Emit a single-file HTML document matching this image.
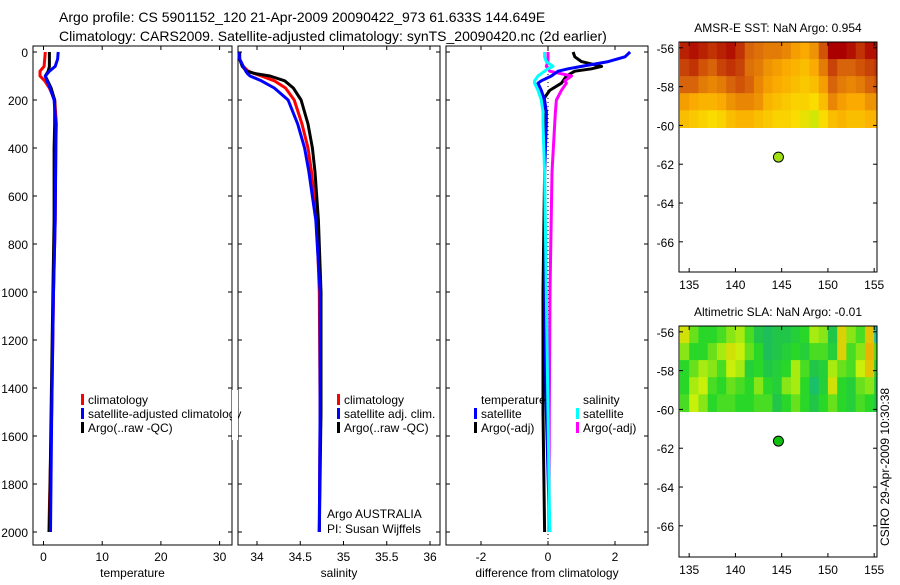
<!DOCTYPE html>
<html><head><meta charset="utf-8"><style>
body{margin:0;background:#fff;width:900px;height:580px;overflow:hidden;font-family:"Liberation Sans",sans-serif}
svg text{font-family:"Liberation Sans",sans-serif;fill:#000}
</style></head><body>
<svg id="chart" width="900" height="580" viewBox="0 0 900 580" xmlns="http://www.w3.org/2000/svg">
<text x="59" y="22" font-size="14">Argo profile: CS 5901152_120 21-Apr-2009 20090422_973 61.633S 144.649E</text>
<text x="59" y="41" font-size="14">Climatology: CARS2009. Satellite-adjusted climatology: synTS_20090420.nc (2d earlier)</text>
<g id="g"></g>
<text transform="translate(889,546) rotate(-90)" font-size="12">CSIRO 29-Apr-2009 10:30:38</text>
</svg>
<script>
// ---------- data ----------
const depthT = [0,30,60,80,100,120,150,200,300,400,700,1000,1500,2000];
const tempClim = [0.3,0.2,0.1,-0.6,-0.6,0.2,1.0,1.9,2.2,2.1,2.0,1.7,1.4,0.9];
const tempSat = [2.5,2.4,2.0,1.0,0.3,0.6,1.1,1.8,2.1,2.1,2.0,1.7,1.4,1.2];
const tempArgo = [1.0,1.0,1.0,0.8,0.3,0.7,1.3,1.9,1.9,1.8,1.8,1.6,1.3,1.0];
const depthS = [0,30,60,80,90,100,120,150,200,300,400,500,700,1000,1500,2000];
const salClim = [33.79,33.8,33.84,33.9,33.97,34.05,34.2,34.33,34.43,34.52,34.59,34.63,34.69,34.72,34.73,34.72];
const salSat = [33.79,33.8,33.84,33.87,33.89,33.92,34.05,34.2,34.36,34.47,34.55,34.6,34.68,34.73,34.73,34.72];
const salArgo = [33.8,33.8,33.83,33.88,33.98,34.15,34.32,34.42,34.51,34.59,34.64,34.67,34.71,34.74,34.74,34.72];
const depthD = [0,20,40,60,70,80,100,120,130,160,200,250,300,500,1000,1500,2000];
const dTempArgo = [0.75,0.8,1.0,1.6,1.3,0.8,0.55,0.45,0.4,0.05,-0.15,-0.05,-0.1,-0.1,-0.15,-0.15,-0.1];
const dTempSat = [2.45,2.3,1.8,1.0,0.6,0.3,0.1,-0.2,-0.3,-0.2,-0.1,-0.05,-0.05,-0.1,-0.1,-0.05,0.05];
const dSalSat = [-0.1,-0.1,-0.05,0.15,0.0,-0.1,-0.3,-0.4,-0.4,-0.3,-0.2,-0.15,-0.15,-0.1,-0.05,0.0,0.05];
const dSalArgo = [0,0,0,-0.05,0.0,0.05,0.7,0.5,0.55,0.4,0.25,0.22,0.2,0.12,0.06,0.04,0.03];
const depthTicks = [0,200,400,600,800,1000,1200,1400,1600,1800,2000];
const tempTicks = [0,10,20,30];
const salTicks = [34,34.5,35,35.5,36];
const diffTicks = [-2,0,2];
const lonTicks = [135,140,145,150,155];
const latTicks = [-56,-58,-60,-62,-64,-66];
const gridLons = [134,135,136,137,138,139,140,141,142,143,144,145,146,147,148,149,150,151,152,153,154,155];
const gridLats = [-56,-57,-58,-59,-60];
const sst = [
[.9,.95,.9,.85,.9,.95,.85,.7,.65,.6,.6,.55,.45,.4,.5,.75,1,1,.95,.85,.95,.95],
[.8,.85,.75,.7,.8,.85,.8,.65,.6,.5,.45,.4,.35,.3,.4,.6,.8,.7,.7,.75,.8,.85],
[.7,.7,.6,.55,.6,.7,.75,.7,.55,.45,.4,.35,.3,.25,.3,.45,.7,.6,.55,.6,.7,.75],
[.45,.4,.35,.35,.4,.5,.55,.55,.5,.35,.3,.25,.2,.2,.15,.3,.55,.45,.4,.4,.5,.5],
[.3,.25,.2,.15,.2,.3,.35,.35,.3,.25,.2,.2,.15,.1,.05,.15,.3,.35,.3,.3,.35,.35]];
const sla = [
[.6,.2,0,0,.1,.3,.4,.1,-.2,-.3,-.2,-.2,-.1,0,.4,.3,-.2,.7,.3,.1,.8,-.8],
[.3,0,0,.2,.4,.6,.5,.2,0,-.3,-.2,-.1,0,-.1,.1,.1,-.1,.7,.1,.3,.9,.1],
[0,.2,.4,.3,.1,.5,.4,-.1,0,-.2,-.1,0,.4,.1,-.2,-.1,.4,.2,.1,.5,.8,-.1],
[0,.4,.5,.1,0,.2,.1,0,.3,0,-.1,.3,.4,0,-.4,-.1,.6,0,-.1,.2,.3,-.2],
[.1,.5,.3,0,.1,.1,0,0,.1,.1,-.2,0,.2,0,-.2,0,.2,0,-.1,.1,0,-.2]];
const floatLon = 144.649, floatLat = -61.633;

// ---------- drawing ----------
const NS='http://www.w3.org/2000/svg';
const G=document.getElementById('g');
function el(t,a,p){const e=document.createElementNS(NS,t);for(const k in a)e.setAttribute(k,a[k]);(p||G).appendChild(e);return e;}
const yD=d=>52+d*0.24;
const P1={l:33,r:232,x:v=>43.5+v*5.87};
const P2={l:238,r:440,x:v=>257+(v-34)*86.5};
const P3={l:446,r:648,x:v=>548+v*33.5};
const TOP=46,BOT=545;
function frame(p,name,ticks,fmt,label){
  const f=el('rect',{x:p.l,y:TOP,width:p.r-p.l,height:BOT-TOP,fill:'none',stroke:'#000','stroke-width':1});
  
  
  ticks.forEach(v=>{const x=p.x(v);
    el('line',{x1:x,x2:x,y1:BOT,y2:BOT-4,stroke:'#000'});el('line',{x1:x,x2:x,y1:TOP,y2:TOP+4,stroke:'#000'});
    const t=el('text',{x:x,y:561,'font-size':12,'text-anchor':'middle'});t.textContent=fmt(v);
    
    });
  depthTicks.forEach(d=>{const y=yD(d);el('line',{x1:p.l,x2:p.l+4,y1:y,y2:y,stroke:'#000'});el('line',{x1:p.r,x2:p.r-4,y1:y,y2:y,stroke:'#000'});});
  const t=el('text',{x:(p.l+p.r)/2,y:577,'font-size':12,'text-anchor':'middle'});t.textContent=label;
  
  
}
frame(P1,'temperature-panel',tempTicks,v=>v,'temperature');
frame(P2,'salinity-panel',salTicks,v=>v,'salinity');
frame(P3,'difference-panel',diffTicks,v=>v,'difference from climatology');
depthTicks.forEach(d=>{const t=el('text',{x:28,y:yD(d)+5,'font-size':12,'text-anchor':'end'});t.textContent=d;
  
  });
const z=el('line',{x1:P3.x(0),x2:P3.x(0),y1:TOP,y2:BOT,stroke:'#000','stroke-dasharray':'1,3'});


function series(p,depths,vals,color,name){
  const pts=depths.map((d,i)=>p.x(vals[i]).toFixed(1)+','+yD(d).toFixed(1)).join(' ');
  const e=el('polyline',{points:pts,fill:'none',stroke:color,'stroke-width':3,'stroke-linejoin':'round'});
  
  
}
series(P1,depthT,tempClim,'#f00','temp-climatology-line');
series(P1,depthT,tempArgo,'#000','temp-argo-line');
series(P1,depthT,tempSat,'#00f','temp-satellite-line');
series(P2,depthS,salClim,'#f00','sal-climatology-line');
series(P2,depthS,salArgo,'#000','sal-argo-line');
series(P2,depthS,salSat,'#00f','sal-satellite-line');
series(P3,depthD,dTempArgo,'#000','diff-temp-argo-line');
series(P3,depthD,dSalArgo,'#f0f','diff-sal-argo-line');
series(P3,depthD,dTempSat,'#00f','diff-temp-satellite-line');
series(P3,depthD,dSalSat,'#0ff','diff-sal-satellite-line');
function legend(x,y,color,text,name){
  if(color){const b=el('rect',{x:x,y:y-10,width:3,height:11,fill:color});
    
    }
  const t=el('text',{x:x+7,y:y,'font-size':12});t.textContent=text;
  
  
}
legend(81,404,'#f00','climatology','legend-climatology');
legend(81,418,'#00f','satellite-adjusted climatology','legend-satellite-adjusted');
legend(81,432,'#000','Argo(..raw -QC)','legend-argo-raw');
legend(337,404,'#f00','climatology','legend-sal-climatology');
legend(337,418,'#00f','satellite adj. clim.','legend-sal-satellite');
legend(337,432,'#000','Argo(..raw -QC)','legend-sal-argo');
legend(474,404,null,'temperature','legend-temp-header');
legend(474,418,'#00f','satellite','legend-diff-temp-satellite');
legend(474,432,'#000','Argo(-adj)','legend-diff-temp-argo');
legend(576,404,null,'salinity','legend-sal-header');
legend(576,418,'#0ff','satellite','legend-diff-sal-satellite');
legend(576,432,'#f0f','Argo(-adj)','legend-diff-sal-argo');
el('rect',{x:232,y:390,width:6,height:50,fill:'#fff'});
const a1=el('text',{x:327,y:518,'font-size':12});a1.textContent='Argo AUSTRALIA';


const a2=el('text',{x:327,y:533,'font-size':12});a2.textContent='PI: Susan Wijffels';



// maps
function lerp(a,b,t){return a.map((v,i)=>Math.round(v+(b[i]-v)*t));}
function ramp(stops,v){for(let i=0;i<stops.length-1;i++){if(v<=stops[i+1][0]){const t=(v-stops[i][0])/(stops[i+1][0]-stops[i][0]);return 'rgb('+lerp(stops[i][1],stops[i+1][1],Math.max(0,t)).join(',')+')';}}return 'rgb('+stops[stops.length-1][1].join(',')+')';}
const sstStops=[[0,[190,235,10]],[0.15,[250,220,0]],[0.4,[250,170,0]],[0.7,[215,100,10]],[1,[170,0,0]]];
const slaStops=[[-1,[0,200,210]],[-0.3,[30,190,90]],[0,[40,215,40]],[0.5,[200,240,10]],[1,[245,165,0]]];
function map(top,bot,name,title,grid,stops,dotColor){
  const M={l:679,r:877,x:v=>679+(v-133.9)*9.25,y:v=>top+(-55.7-v)*19.4};
  const tt=el('text',{x:778,y:top-10,'font-size':12,'text-anchor':'middle'});tt.textContent=title;
  
  
  const cw=9.25,ch=(M.y(-60.1)-top)/gridLats.length;
  grid.forEach((row,j)=>row.forEach((v,i)=>{
    const c=el('rect',{x:(M.x(gridLons[i])).toFixed(1),y:(top+j*ch).toFixed(1),width:cw+0.6,height:ch+0.6,fill:ramp(stops,v)});
    
    
  }));
  el('rect',{x:877.5,y:top,width:12,height:bot-top,fill:'#fff'});
  const f=el('rect',{x:M.l,y:top,width:M.r-M.l,height:bot-top,fill:'none',stroke:'#000'});
  
  
  lonTicks.forEach(v=>{const x=M.x(v);el('line',{x1:x,x2:x,y1:bot,y2:bot-4,stroke:'#000'});el('line',{x1:x,x2:x,y1:top,y2:top+4,stroke:'#000'});
    const t=el('text',{x:x,y:bot+17,'font-size':12,'text-anchor':'middle'});t.textContent=v;
    
    });
  latTicks.forEach(v=>{const y=M.y(v);el('line',{x1:M.l,x2:M.l+4,y1:y,y2:y,stroke:'#000'});el('line',{x1:M.r,x2:M.r-4,y1:y,y2:y,stroke:'#000'});
    const t=el('text',{x:674,y:y+5,'font-size':12,'text-anchor':'end'});t.textContent=v;
    
    });
  const d=el('circle',{cx:M.x(floatLon),cy:M.y(floatLat),r:5,fill:dotColor,stroke:'#000','stroke-width':1});
  
  
}
map(42,272,'sst-map','AMSR-E SST: NaN Argo: 0.954',sst,sstStops,'#a0e010');
map(326,557,'sla-map','Altimetric SLA: NaN Argo: -0.01',sla,slaStops,'#10c010');
</script>
</body></html>
